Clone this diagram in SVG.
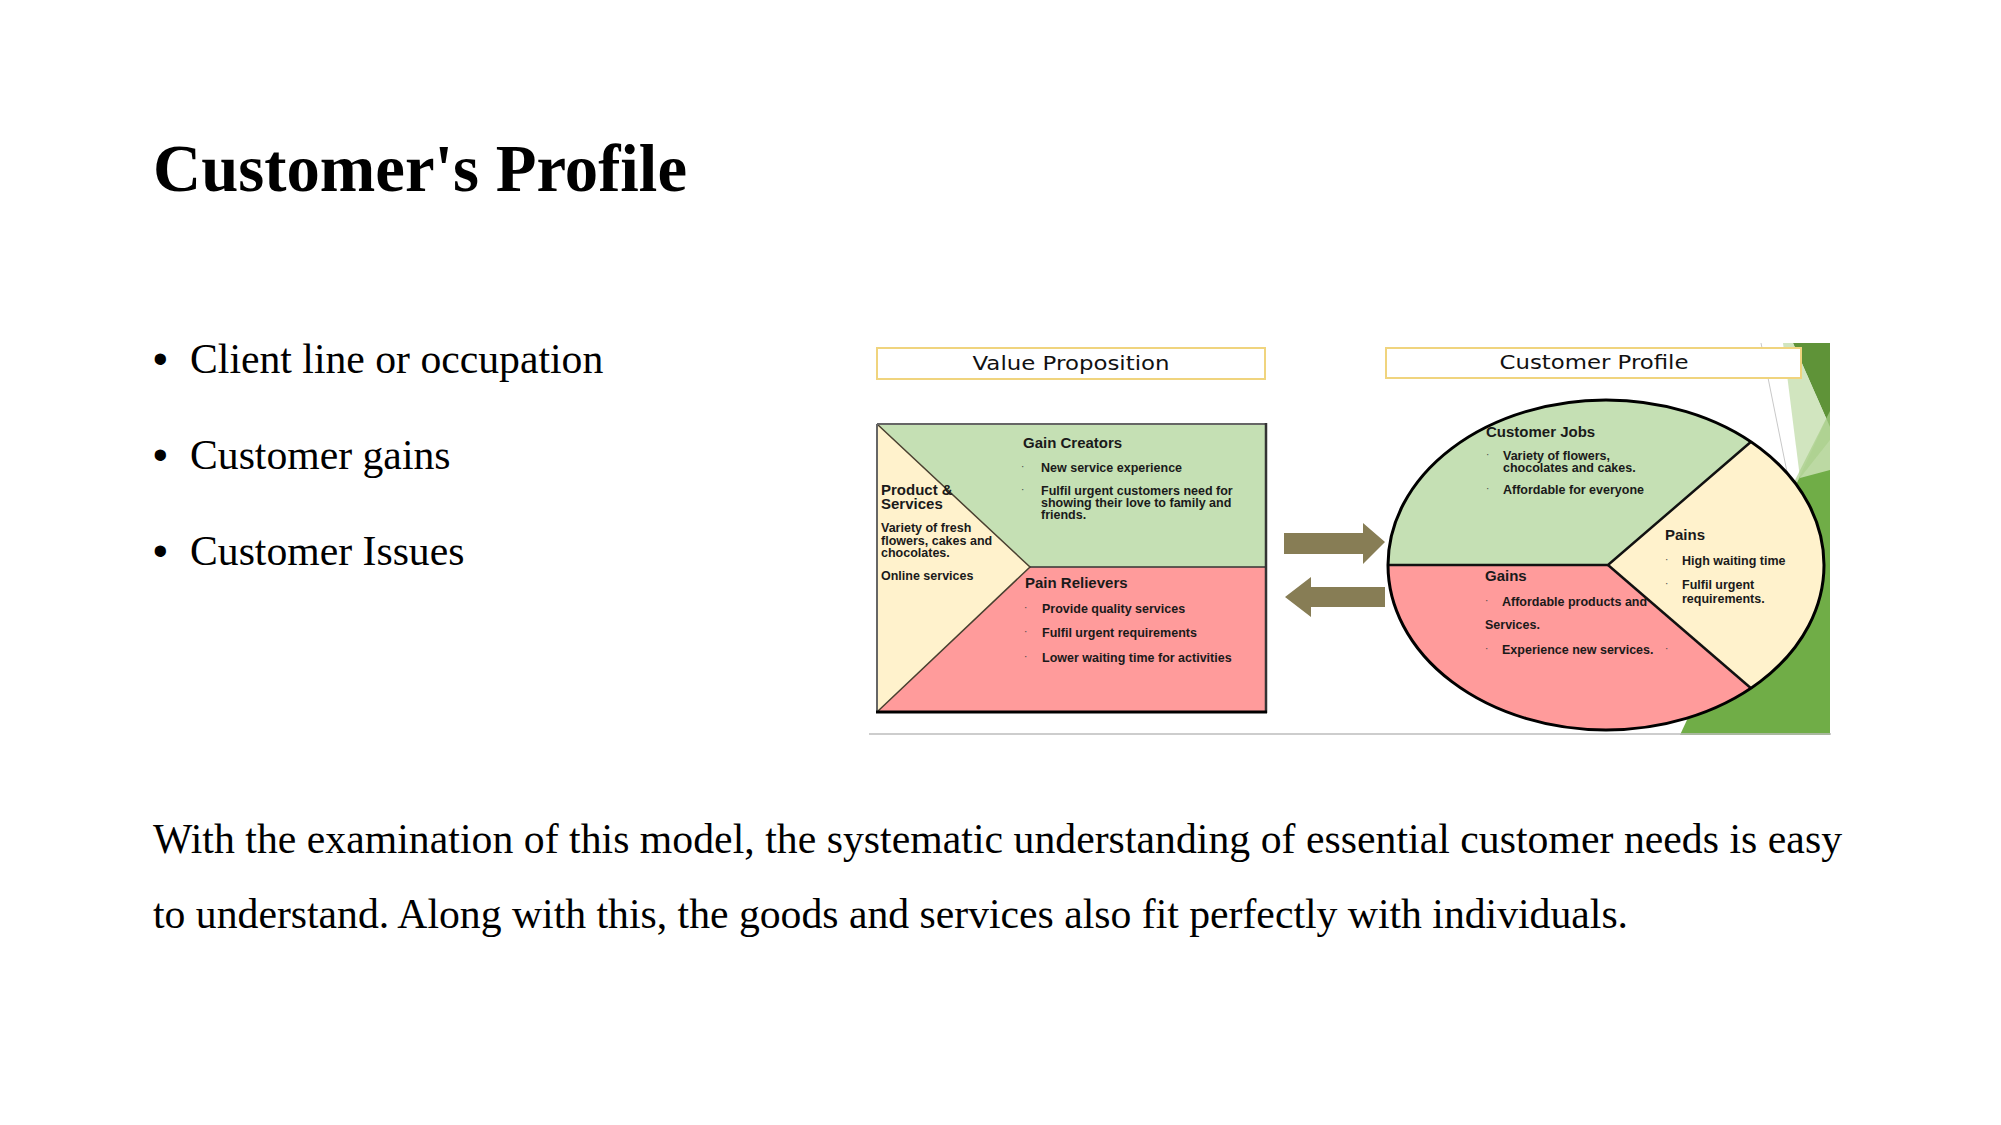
<svg xmlns="http://www.w3.org/2000/svg" width="2001" height="1125" viewBox="0 0 2001 1125">
<style>
.serif{font-family:"Liberation Serif","Times New Roman",serif;fill:#000}
.title{font-size:66.7px;font-weight:bold}
.body{font-size:41.7px}
.bul{font-family:"Liberation Sans",Arial,sans-serif;font-size:41.7px;fill:#000}
.hdr{font-family:"DejaVu Sans",Verdana,sans-serif;font-size:20px;fill:#111}
.h{font-family:"Liberation Sans",Arial,sans-serif;font-size:15px;font-weight:bold;fill:#1a1a1a}
.t{font-family:"Liberation Sans",Arial,sans-serif;font-size:12.5px;font-weight:bold;fill:#1a1a1a}
.dot{font-family:"Liberation Sans",Arial,sans-serif;font-size:10px;fill:#444}
.hbox{fill:#fff;stroke:#f0d47e;stroke-width:2}
.arrow{fill:#877d55}
</style>

<g id="title"><text class="serif title" x="153" y="191">Customer's Profile</text></g>

<g id="bullets">
<text class="bul" x="153" y="373">•</text><text class="serif body" x="190" y="373">Client line or occupation</text>
<text class="bul" x="153" y="469">•</text><text class="serif body" x="190" y="469">Customer gains</text>
<text class="bul" x="153" y="565">•</text><text class="serif body" x="190" y="565">Customer Issues</text>
</g>

<g id="paragraph">
<text class="serif body" x="153" y="853" textLength="1689" lengthAdjust="spacing">With the examination of this model, the systematic understanding of essential customer needs is easy</text>
<text class="serif body" x="153" y="928">to understand. Along with this, the goods and services also fit perfectly with individuals.</text>
</g>

<g id="decor">
<polygon points="1830,411 1830,735 1680,735" fill="#70ad47"/>
<polygon points="1793,343 1830,343 1830,427" fill="#5f9338"/>
<polygon points="1783,343 1793,343 1830,427 1830,470 1800,478" fill="#c9e0b4" opacity="0.85"/>
<polygon points="1800,478 1830,440 1830,411 1790,490" fill="#a9cf8a" opacity="0.7"/>
<line x1="1761" y1="343" x2="1787" y2="472" stroke="#c8c8c8" stroke-width="1"/>
<line x1="869" y1="734" x2="1831" y2="734" stroke="#bdbdbd" stroke-width="1.5"/>
</g>

<g id="value-proposition">
<rect class="hbox" x="877" y="348" width="388" height="31"/>
<text class="hdr" x="1071" y="370" text-anchor="middle" textLength="197" lengthAdjust="spacingAndGlyphs">Value Proposition</text>
<polygon points="877,424 1266,424 1266,567 1030,567" fill="#c5e0b4"/>
<polygon points="1030,567 1266,567 1266,712 877,712" fill="#ff9b9b"/>
<polygon points="877,424 1030,567 877,712" fill="#fff2cc"/>
<polyline points="877,424 1030,567 877,712" fill="none" stroke="#4a4030" stroke-width="1.5"/>
<line x1="1030" y1="567" x2="1266" y2="567" stroke="#333" stroke-width="1.5"/>
<line x1="877" y1="424" x2="1266" y2="424" stroke="#666" stroke-width="2"/>
<line x1="877" y1="424" x2="877" y2="712" stroke="#666" stroke-width="2"/>
<line x1="1266" y1="423" x2="1266" y2="713" stroke="#333" stroke-width="2.5"/>
<line x1="876" y1="712" x2="1267" y2="712" stroke="#000" stroke-width="3"/>
</g>

<g id="gain-creators">
<text class="h" x="1023" y="448">Gain Creators</text>
<text class="dot" x="1021" y="470">·</text>
<text class="t" x="1041" y="472">New service experience</text>
<text class="dot" x="1021" y="493">·</text>
<text class="t" x="1041" y="495">Fulfil urgent customers need for</text>
<text class="t" x="1041" y="507">showing their love to family and</text>
<text class="t" x="1041" y="519">friends.</text>
</g>

<g id="products-services">
<text class="h" x="881" y="495">Product &amp;</text>
<text class="h" x="881" y="509">Services</text>
<text class="t" x="881" y="532">Variety of fresh</text>
<text class="t" x="881" y="545">flowers, cakes and</text>
<text class="t" x="881" y="557">chocolates.</text>
<text class="t" x="881" y="580">Online services</text>
</g>

<g id="pain-relievers">
<text class="h" x="1025" y="588">Pain Relievers</text>
<text class="dot" x="1024" y="611">·</text>
<text class="t" x="1042" y="613">Provide quality services</text>
<text class="dot" x="1024" y="635">·</text>
<text class="t" x="1042" y="637">Fulfil urgent requirements</text>
<text class="dot" x="1024" y="660">·</text>
<text class="t" x="1042" y="662">Lower waiting time for activities</text>
</g>

<g id="connectors">
<polygon class="arrow" points="1284,533 1363,533 1363,523 1385,542 1363,564 1363,554 1284,554"/>
<polygon class="arrow" points="1385,587 1311,587 1311,577 1285,597 1311,617 1311,607 1385,607"/>
</g>

<g id="customer-profile">
<rect class="hbox" x="1386" y="348" width="415" height="30"/>
<text class="hdr" x="1594" y="369" text-anchor="middle" textLength="189" lengthAdjust="spacingAndGlyphs">Customer Profile</text>
<path d="M1388,565 A218,165 0 0,1 1751,441.8 L1608,565 Z" fill="#c5e0b4"/>
<path d="M1751,441.8 A218,165 0 0,1 1751,688.2 L1608,565 Z" fill="#fff2cc"/>
<path d="M1751,688.2 A218,165 0 0,1 1388,565 L1608,565 Z" fill="#ff9b9b"/>
<polyline points="1388,565 1608,565 1751,441.8" fill="none" stroke="#111" stroke-width="2.5"/>
<line x1="1608" y1="565" x2="1751" y2="688.2" stroke="#111" stroke-width="2.5"/>
<ellipse cx="1606" cy="565" rx="218" ry="165" fill="none" stroke="#000" stroke-width="3"/>
</g>

<g id="customer-jobs">
<text class="h" x="1486" y="437">Customer Jobs</text>
<text class="dot" x="1486" y="458">·</text>
<text class="t" x="1503" y="460">Variety of flowers,</text>
<text class="t" x="1503" y="472">chocolates and cakes.</text>
<text class="dot" x="1486" y="492">·</text>
<text class="t" x="1503" y="494">Affordable for everyone</text>
</g>

<g id="pains">
<text class="h" x="1665" y="540">Pains</text>
<text class="dot" x="1665" y="563">·</text>
<text class="t" x="1682" y="565">High waiting time</text>
<text class="dot" x="1665" y="587">·</text>
<text class="t" x="1682" y="589">Fulfil urgent</text>
<text class="t" x="1682" y="603">requirements.</text>
</g>

<g id="gains">
<text class="h" x="1485" y="581">Gains</text>
<text class="dot" x="1485" y="604">·</text>
<text class="t" x="1502" y="606">Affordable products and</text>
<text class="t" x="1485" y="629">Services.</text>
<text class="dot" x="1485" y="652">·</text>
<text class="t" x="1502" y="654">Experience new services.</text>
<text class="dot" x="1665" y="652">·</text>
</g>
</svg>
